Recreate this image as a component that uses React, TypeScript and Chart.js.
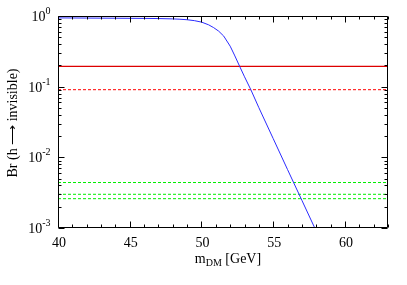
import React, { useEffect, useRef } from "react";
import { Chart, registerables } from "chart.js";

Chart.register(...registerables);

const mDM = [40, 42, 44, 46, 47, 48, 48.5, 49, 49.5, 50, 50.5, 50.85, 51.2, 51.55, 52, 52.3, 52.66, 53, 53.44, 54, 55, 56, 57, 58];
const brInv = [0.94, 0.935, 0.93, 0.925, 0.92, 0.91, 0.9, 0.885, 0.86, 0.82, 0.75, 0.684, 0.61, 0.52, 0.374, 0.28, 0.194, 0.138, 0.0906, 0.0504, 0.0184, 0.0067, 0.00246, 0.0009];

const xRange = [40, 63];
const limitRedSolid = 0.194;
const limitRedDotted = 0.0906;
const limitGreen = [0.0044, 0.003, 0.0026];

const xMajorTicks = [40, 45, 50, 55, 60];
const xMinorTicks = [41, 42, 43, 44, 46, 47, 48, 49, 51, 52, 53, 54, 56, 57, 58, 59, 61, 62, 63];
const yDecadeExponents = [0, -1, -2, -3];
const yMinorMantissas = [2, 3, 4, 5, 6, 7, 8, 9];

const xTitleMain = "m";
const xTitleSub = "DM";
const xTitleRest = " [GeV]";
const yTitle = "Br (h \u27F6 invisible)";

const FONT = "'Liberation Serif', 'Times New Roman', serif";

const axisPlugin = {
  id: "gnuplotAxes",
  afterDraw(chart: any) {
    const { ctx, chartArea } = chart;
    const xs = chart.scales.x;
    const ys = chart.scales.y;
    const L = Math.round(chartArea.left) + 0.5;
    const R = Math.round(chartArea.right) - 0.5;
    const T = Math.round(chartArea.top) + 0.5;
    const B = Math.round(chartArea.bottom) - 0.5;
    ctx.save();
    ctx.strokeStyle = "#000";
    ctx.lineWidth = 1;
    ctx.beginPath();
    ctx.rect(L, T, R - L, B - T);
    ctx.stroke();

    ctx.beginPath();
    const xt = (v: number, len: number) => {
      const p = Math.round(xs.getPixelForValue(v)) + 0.5;
      ctx.moveTo(p, B);
      ctx.lineTo(p, B - len);
      ctx.moveTo(p, T);
      ctx.lineTo(p, T + len);
    };
    xMajorTicks.forEach((v) => xt(v, 6));
    xMinorTicks.forEach((v) => xt(v, 3));
    const yt = (v: number, len: number) => {
      const p = Math.round(ys.getPixelForValue(v)) + 0.5;
      ctx.moveTo(L, p);
      ctx.lineTo(L + len, p);
      ctx.moveTo(R, p);
      ctx.lineTo(R - len, p);
    };
    yDecadeExponents.forEach((e) => {
      yt(Math.pow(10, e), 6);
      if (e < 0) yMinorMantissas.forEach((m) => yt(m * Math.pow(10, e), 3));
    });
    ctx.stroke();

    ctx.fillStyle = "#000";
    ctx.font = `14px ${FONT}`;
    ctx.textBaseline = "alphabetic";
    ctx.textAlign = "center";
    xMajorTicks.forEach((v) => {
      ctx.fillText(String(v), xs.getPixelForValue(v) + 1, B + 19);
    });

    yDecadeExponents.forEach((e) => {
      const p = ys.getPixelForValue(Math.pow(10, e));
      const exp = String(e);
      ctx.font = `10px ${FONT}`;
      const ew = ctx.measureText(exp).width;
      ctx.font = `14px ${FONT}`;
      const bw = ctx.measureText("10").width;
      const right = L - 8;
      ctx.textAlign = "left";
      ctx.fillText("10", right - ew - bw, p + 5);
      ctx.font = `10px ${FONT}`;
      ctx.fillText(exp, right - ew, p - 2);
    });

    // x title
    ctx.textAlign = "left";
    ctx.font = `14px ${FONT}`;
    const mw = ctx.measureText(xTitleMain).width;
    ctx.font = `10px ${FONT}`;
    const sw = ctx.measureText(xTitleSub).width;
    ctx.font = `14px ${FONT}`;
    const rw = ctx.measureText(xTitleRest).width;
    const total = mw + sw + rw;
    const cx = 228;
    const x0 = cx - total / 2;
    const by = 263;
    ctx.fillText(xTitleMain, x0, by);
    ctx.font = `10px ${FONT}`;
    ctx.fillText(xTitleSub, x0 + mw, by + 3);
    ctx.font = `14px ${FONT}`;
    ctx.fillText(xTitleRest, x0 + mw + sw, by);

    // y title
    ctx.translate(17, 123);
    ctx.rotate(-Math.PI / 2);
    ctx.textAlign = "center";
    ctx.fillText(yTitle, 0, 0);
    ctx.restore();
  },
};

export default function App() {
  const ref = useRef<HTMLCanvasElement | null>(null);
  useEffect(() => {
    if (!ref.current) return;
    const hline = (y: number) => [
      { x: xRange[0], y },
      { x: xRange[1], y },
    ];
    const chart = new Chart(ref.current, {
      type: "line",
      data: {
        datasets: [
          {
            data: mDM.map((x, i) => ({ x, y: brInv[i] })),
            borderColor: "#2b2bff",
            borderWidth: 1,
            pointRadius: 0,
            fill: false,
            tension: 0,
          },
          {
            data: hline(limitRedSolid),
            borderColor: "#dd0000",
            borderWidth: 1.3,
            pointRadius: 0,
          },
          {
            data: hline(limitRedDotted),
            borderColor: "#ff0000",
            borderWidth: 1,
            borderDash: [3, 2],
            pointRadius: 0,
          },
          ...limitGreen.map((g) => ({
            data: hline(g),
            borderColor: "#00ee00",
            borderWidth: 1,
            borderDash: [3, 2],
            pointRadius: 0,
          })),
        ],
      },
      options: {
        animation: false,
        responsive: true,
        maintainAspectRatio: false,
        layout: { padding: { left: 58, right: 19, top: 16, bottom: 57 } },
        plugins: { legend: { display: false }, tooltip: { enabled: false } },
        scales: {
          x: {
            type: "linear",
            display: false,
            min: xRange[0],
            max: xRange[1],
          },
          y: {
            type: "logarithmic",
            display: false,
            min: 0.001,
            max: 1,
          },
        },
      },
      plugins: [axisPlugin],
    });
    return () => chart.destroy();
  }, []);
  return (
    <div style={{ position: "fixed", left: 0, top: 0, width: 407, height: 285, background: "#fff" }}>
      <canvas ref={ref} />
    </div>
  );
}
